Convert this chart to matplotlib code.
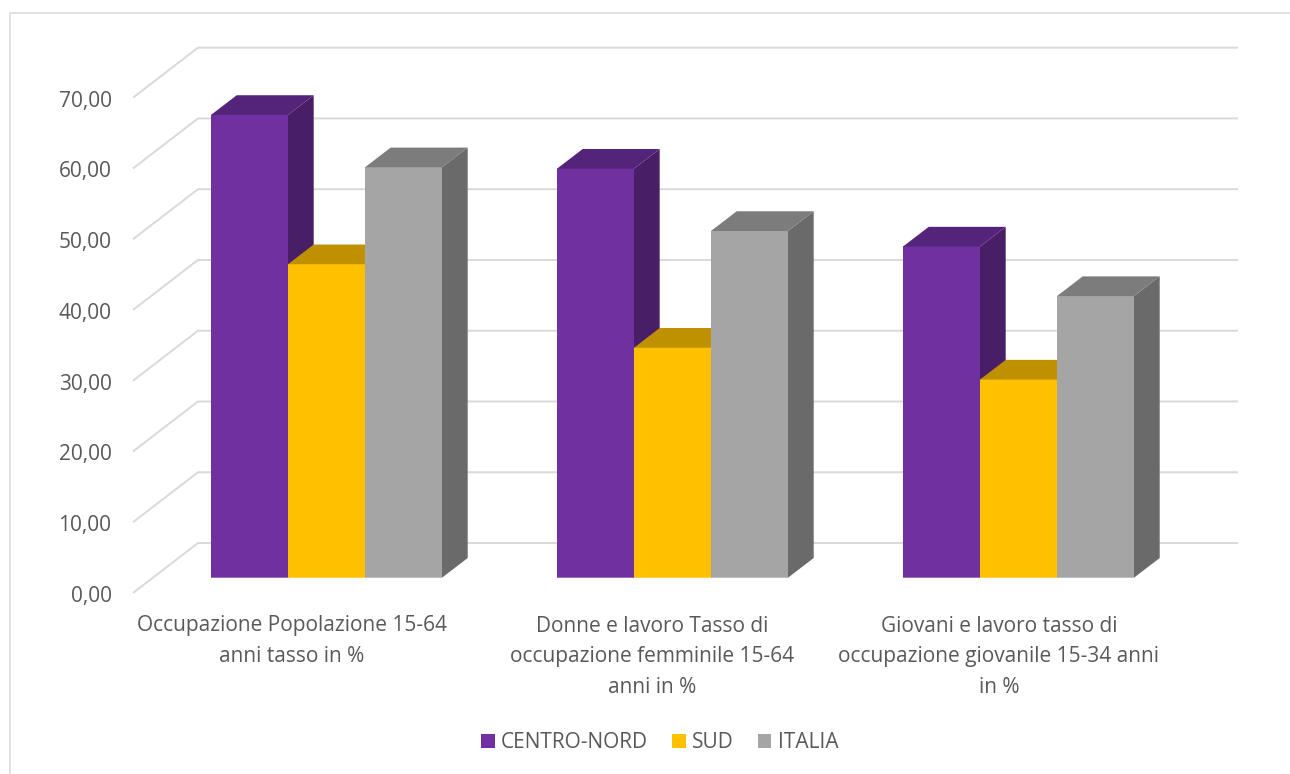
import numpy as np
import matplotlib
matplotlib.use("Agg")
import matplotlib.pyplot as plt
from matplotlib.patches import Polygon

plt.rcParams["font.family"] = ["Open Sans", "DejaVu Sans"]

# ====================== data ======================
categories = [
    "Occupazione Popolazione 15-64\nanni tasso in %",
    "Donne e lavoro Tasso di\noccupazione femminile 15-64\nanni in %",
    "Giovani e lavoro tasso di\noccupazione giovanile 15-34 anni\nin %",
]
series_names = ["CENTRO-NORD", "SUD", "ITALIA"]
centro_nord = [65.4, 57.8, 46.8]
sud = [44.3, 32.5, 28.0]
italia = [58.0, 49.0, 39.8]
y_ticks = [0, 10, 20, 30, 40, 50, 60, 70]

front_colors = ["#7030A0", "#FFC000", "#A5A5A5"]
top_colors = ["#54247A", "#BF9000", "#7C7C7C"]
side_colors = ["#481F67", "#A67D00", "#6A6A6A"]
grid_color = "#D9D9D9"
text_color = "#595959"

# ====================== layout (pixels of the 1290x774 image) ======================
W, H = 1290, 774
PX_X = 346.0     # one category
PX_Y = 7.076     # one unit of value
X0, Y0 = 326.5, 577.7   # first group centre, bar baseline
FS = 15


def dx(px):
    return px / PX_X


def dy(px):
    return px / PX_Y


fig = plt.figure(figsize=(W / 100, H / 100), dpi=100)
ax = fig.add_axes([0, 0, 1, 1])
ax.set_xlim(-X0 / PX_X, (W - X0) / PX_X)
ax.set_ylim((Y0 - H) / PX_Y, Y0 / PX_Y)
ax.axis("off")

# chart border, open towards right and bottom like the crop
ax.plot([1.0, 9.5 / W, 9.5 / W], [1 - 12.5 / H, 1 - 12.5 / H, 0], transform=ax.transAxes,
        color=grid_color, lw=1.1, zorder=0)

# ====================== walls ======================
wall_left = dx(133 - X0)
wall_back = dx(198 - X0)
wall_right = dx(1238 - X0)
back_shift = dy(Y0 - 543)    # back wall level of value 0
front_shift = dy(Y0 - 593)   # front edge level of value 0
for t in y_ticks:
    ax.plot([wall_left, wall_back, wall_right],
            [t + front_shift, t + back_shift, t + back_shift],
            color=grid_color, lw=1.4, zorder=1, solid_capstyle="butt", solid_joinstyle="miter")
    ax.text(dx(111.5 - X0), t + dy(Y0 - 596.5), f"{t:.2f}".replace(".", ","), ha="right", va="center",
            fontsize=FS, color=text_color)

# ====================== bars ======================
bar_w = dx(77)
depth_x = dx(25.7)
depth_y = dy(19.7)
z = 2
handles = []
for i, vals in enumerate([centro_nord, sud, italia]):
    for c, v in enumerate(vals):
        left = c + (i - 1.5) * bar_w
        right = left + bar_w
        # top runs 1px under the front face so no seam shows
        top = Polygon([(left, v - dy(1)), (right, v - dy(1)), (right, v), (right + depth_x, v + depth_y),
                       (left + depth_x, v + depth_y), (left, v)],
                      closed=True, facecolor=top_colors[i], edgecolor="none", zorder=z)
        side = Polygon([(right, 0), (right + depth_x, depth_y), (right + depth_x, v + depth_y), (right, v)],
                       closed=True, facecolor=side_colors[i], edgecolor="none", zorder=z)
        ax.add_patch(side)
        ax.add_patch(top)
    bars = ax.bar(np.arange(3) + (i - 1) * bar_w, vals, width=bar_w, color=front_colors[i],
                  zorder=z + 1, label=series_names[i], snap=False)
    handles.append(bars)
    z += 2

# ====================== category labels ======================
label_centres = [291.5, 652, 999]
for px, lab in zip(label_centres, categories):
    ax.text(dx(px - X0), dy(Y0 - 615.5), lab, ha="center", va="top", fontsize=FS, color=text_color,
            linespacing=1.6)

# ====================== legend ======================
leg = ax.legend(handles=handles, loc="center", bbox_to_anchor=(659.5 / W, 1 - 742.5 / H), ncol=3,
                frameon=False, fontsize=FS, labelcolor=text_color, handlelength=0.67, handleheight=0.67,
                handletextpad=0.29, columnspacing=1.15, borderpad=0)

fig.savefig("out.png", dpi=100)
